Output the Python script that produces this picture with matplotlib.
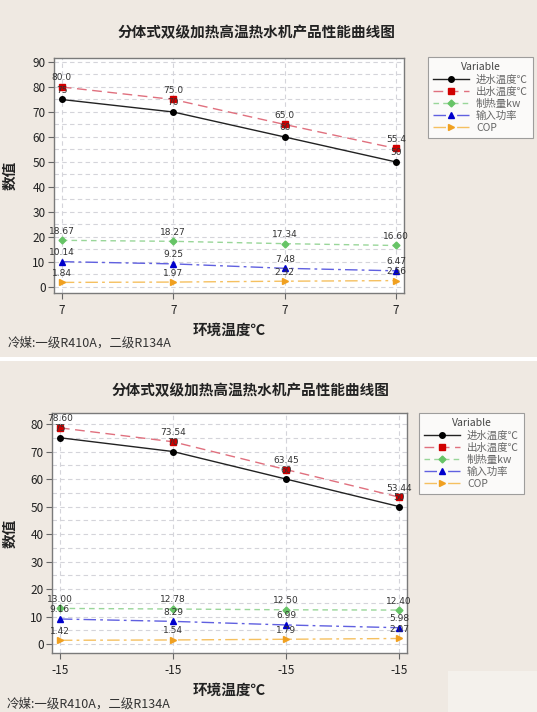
import numpy as np
import matplotlib
matplotlib.use("Agg")
import matplotlib.pyplot as plt
from matplotlib.patches import Rectangle
from matplotlib.ticker import MultipleLocator

plt.rcParams['font.family'] = ['Noto Sans CJK SC', 'DejaVu Sans']

# --- datos ---
series_names = ["进水温度℃", "出水温度℃", "制热量kw", "输入功率", "COP"]

top_labels = ["7", "7", "7", "7"]
top_in = [75, 70, 60, 50]
top_out = [80.0, 75.0, 65.0, 55.4]
top_heat = [18.67, 18.27, 17.34, 16.60]
top_power = [10.14, 9.25, 7.48, 6.47]
top_cop = [1.84, 1.97, 2.32, 2.56]

bot_labels = ["-15", "-15", "-15", "-15"]
bot_in = [75, 70, 60, 50]
bot_out = [78.60, 73.54, 63.45, 53.44]
bot_heat = [13.00, 12.78, 12.50, 12.40]
bot_power = [9.16, 8.29, 6.99, 5.98]
bot_cop = [1.42, 1.54, 1.79, 2.07]

titulo = "分体式双级加热高温热水机产品性能曲线图"
nota = "冷媒:一级R410A，二级R134A"

# estilos: color linea, color marcador, marcador, trazo
estilos = [
    ("#222222", "#000000", "o", "-"),
    ("#e0707e", "#d00000", "s", (0, (7, 4))),
    ("#99d699", "#66c466", "D", (0, (4, 3))),
    ("#6060e0", "#0000cc", "^", (0, (9, 3, 2, 3))),
    ("#f5c060", "#f0a020", ">", (0, (9, 3, 2, 3))),
]

W, H = 537, 712
fig = plt.figure(figsize=(W / 100, H / 100), dpi=100)
fig.patch.set_facecolor("#efe9e2")
# franja blanca entre las dos capturas
fig.patches.append(Rectangle((0, 1 - 361 / H), 1, 4 / H, transform=fig.transFigure,
                             facecolor="white", edgecolor="none", zorder=0))
fig.patches.append(Rectangle((448 / W, 0), 1, 41 / H, transform=fig.transFigure,
                             facecolor="#f4f1ec", edgecolor="none", zorder=0))


def panel(rect, etiquetas, series, formatos, ylim, ymax_tick, leg_anchor):
    ax = fig.add_axes([rect[0] / W, 1 - rect[3] / H, (rect[2] - rect[0]) / W,
                       (rect[3] - rect[1]) / H])
    ax.set_facecolor("white")
    x = np.arange(1, len(etiquetas) + 1)
    for nombre, vals, fmt, (lc, mc, mk, ls) in zip(series_names, series, formatos, estilos):
        ax.plot(x, vals, color=lc, linestyle=ls, linewidth=1.0, marker=mk,
                markersize=4 if mk != "D" else 3.5, markerfacecolor=mc,
                markeredgecolor=mc, label=nombre, zorder=3)
        for xi, v in zip(x, vals):
            ax.annotate(fmt.format(v), (xi, v), xytext=(0, 6.5), textcoords="offset points",
                        ha="center", va="center", fontsize=6.5, color="#333333",
                        family="DejaVu Sans", zorder=4)
    ax.set_xlim(0.93, len(etiquetas) + 0.07)
    ax.set_ylim(*ylim)
    ax.set_xticks(x)
    ax.set_xticklabels(etiquetas)
    ax.set_yticks(np.arange(0, ymax_tick + 1, 10))
    ax.yaxis.set_minor_locator(MultipleLocator(5))
    ax.grid(True, which="both", axis="y", color="#d4d4da", linestyle=(0, (4, 3)), linewidth=0.8)
    ax.grid(True, which="major", axis="x", color="#d4d4da", linestyle=(0, (4, 3)), linewidth=0.8)
    ax.tick_params(axis="y", which="minor", length=0)
    ax.tick_params(which="major", length=4, color="#666666", labelsize=8.5,
                   labelcolor="#222222", pad=2)
    ax.tick_params(axis="x", pad=4)
    for s in ax.spines.values():
        s.set_color("#7a7a7a")
        s.set_linewidth(1.0)
    ax.set_axisbelow(True)
    ax.set_xlabel("环境温度℃", fontsize=10.5, fontweight="bold", color="#222222")
    ax.set_ylabel("数值", fontsize=10.5, fontweight="bold", color="#222222")
    ax.yaxis.set_label_coords((17 - rect[0]) / (rect[2] - rect[0]), 0.5)
    ax.xaxis.set_label_coords(0.5, -29 / (rect[3] - rect[1]))
    leg = ax.legend(loc="upper left", bbox_to_anchor=leg_anchor, title="Variable",
                    fontsize=7.5, title_fontsize=7.5, frameon=True, fancybox=False,
                    edgecolor="#888888", handlelength=3.4, borderpad=0.5,
                    labelspacing=0.2, handletextpad=0.7, borderaxespad=0)
    leg.get_frame().set_linewidth(0.8)
    for t in leg.get_texts():
        t.set_color("#666666")
    leg.get_title().set_color("#444444")
    return ax


ax1 = panel((54, 58, 404, 293), top_labels,
            [top_in, top_out, top_heat, top_power, top_cop],
            ["{:.0f}", "{:.1f}", "{:.2f}", "{:.2f}", "{:.2f}"],
            (-2.4, 91.6), 90, ((428 - 54) / 350, (293 - 57) / 235))
ax2 = panel((52, 413, 407, 653), bot_labels,
            [bot_in, bot_out, bot_heat, bot_power, bot_cop],
            ["{:.0f}", "{:.2f}", "{:.2f}", "{:.2f}", "{:.2f}"],
            (-3.2, 84.0), 80, ((419 - 52) / 355, 1.0))

fig.text(256 / W, 1 - 32 / H, titulo, ha="center", va="center", fontsize=10.5,
         fontweight="bold", color="#222222")
fig.text(250 / W, 1 - 390 / H, titulo, ha="center", va="center", fontsize=10.5,
         fontweight="bold", color="#222222")
fig.text(8 / W, 1 - 343 / H, nota, ha="left", va="center", fontsize=9, color="#333333")
fig.text(7 / W, 1 - 704 / H, nota, ha="left", va="center", fontsize=9, color="#333333")

fig.savefig("out.png", dpi=100, facecolor=fig.get_facecolor())
